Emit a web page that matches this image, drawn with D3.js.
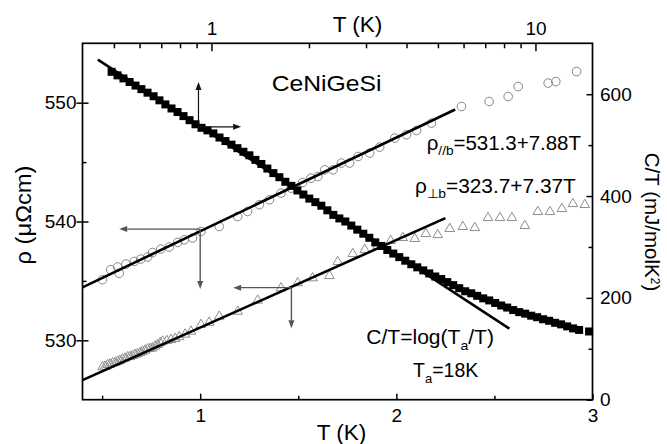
<!DOCTYPE html>
<html>
<head>
<meta charset="utf-8">
<script src="https://cdn.jsdelivr.net/npm/d3@7/dist/d3.min.js"></script>
<style>
  html, body { margin: 0; padding: 0; background: #fff; }
  svg { display: block; }
  text { font-family: "Liberation Sans", Arial, Helvetica, sans-serif; fill: #000; }
</style>
</head>
<body>
<svg id="chart" width="667" height="444"></svg>
<script>
// ---- C/T of CeNiGeSi, plotted against the top (logarithmic) T axis and the right axis
const ctT = [0.492, 0.513, 0.535, 0.559, 0.583, 0.608, 0.635, 0.663, 0.691, 0.721,
             0.753, 0.786, 0.820, 0.856, 0.893, 0.932, 0.972, 1.014, 1.059, 1.105,
             1.153, 1.203, 1.255, 1.310, 1.367, 1.426, 1.488, 1.553, 1.621, 1.691,
             1.765, 1.842, 1.922, 2.005, 2.093, 2.184, 2.279, 2.378, 2.482, 2.590,
             2.702, 2.820, 2.943, 3.071, 3.204, 3.344, 3.490, 3.641, 3.800, 3.965,
             4.138, 4.318, 4.506, 4.702, 4.907, 5.120, 5.343, 5.576, 5.818, 6.071,
             6.336, 6.611, 6.899, 7.200, 7.513, 7.840, 8.181, 8.537, 8.909, 9.296,
             9.701, 10.12, 10.56, 11.02, 11.50, 12.00, 12.53, 13.07, 13.64, 14.64];
const ctVal = [644, 637, 631, 624, 617, 610, 603, 596, 588, 580,
               572, 565, 557, 549, 541, 534, 529, 523, 515, 508,
               501, 494, 487, 480, 471, 463, 454, 445, 437, 428,
               420, 411, 403, 395, 388, 381, 372, 363, 356, 350,
               342, 334, 326, 318, 309, 302, 294, 287, 280, 273,
               266, 260, 254, 248, 242, 237, 231, 225, 219, 213,
               209, 204, 199, 195, 190, 185, 181, 176, 172, 169,
               165, 162, 158, 155, 151, 148, 144, 140, 137, 134];

// ---- resistivity along b (bottom linear T axis, left axis)
const rhoParT = [0.502, 0.544, 0.579, 0.587, 0.621, 0.664, 0.697, 0.732, 0.757, 0.799,
                 0.842, 0.885, 0.919, 0.961, 1.004, 1.097, 1.191, 1.242, 1.302, 1.353,
                 1.412, 1.463, 1.522, 1.565, 1.600, 1.635, 1.677, 1.720, 1.762, 1.805,
                 1.864, 1.915, 1.992, 2.052, 2.103, 2.179, 2.332, 2.473, 2.570, 2.621,
                 2.774, 2.813, 2.919];
const rhoPar = [535.10, 535.94, 536.17, 535.64, 536.42, 536.64, 536.84, 537.01, 537.39, 537.68,
                537.85, 538.24, 538.46, 538.61, 539.16, 539.58, 540.42, 540.84, 541.41, 541.83,
                542.39, 542.81, 543.28, 543.65, 543.79, 544.35, 544.35, 544.92, 544.92, 545.47,
                545.76, 546.26, 547.02, 547.30, 547.66, 548.28, 549.68, 550.10, 550.52, 551.36,
                551.65, 551.78, 552.62];

// ---- resistivity perpendicular to b (shown shifted up by perpShift)
const rhoPerpT = [0.502, 0.515, 0.528, 0.540, 0.553, 0.566, 0.579, 0.591, 0.604, 0.617,
                  0.630, 0.642, 0.655, 0.668, 0.681, 0.694, 0.706, 0.719, 0.732, 0.745,
                  0.757, 0.770, 0.783, 0.796, 0.808, 0.830, 0.851, 0.872, 0.893, 0.923,
                  0.953, 1.004, 1.046, 1.097, 1.191, 1.293, 1.412, 1.497, 1.573, 1.659,
                  1.701, 1.778, 1.839, 1.905, 1.971, 2.033, 2.094, 2.150, 2.211, 2.272,
                  2.339, 2.400, 2.467, 2.528, 2.589, 2.655, 2.721, 2.783, 2.844, 2.900,
                  2.961];
const rhoPerp = [327.75, 327.80, 327.94, 327.98, 328.08, 328.12, 328.22, 328.30, 328.42, 328.48,
                 328.59, 328.62, 328.70, 328.80, 328.87, 328.95, 329.06, 329.15, 329.27, 329.30,
                 329.35, 329.50, 329.63, 329.78, 329.91, 329.96, 330.05, 330.14, 330.28, 330.50,
                 330.75, 331.31, 331.50, 332.01, 332.43, 333.36, 334.40, 334.82, 335.24, 335.43,
                 336.61, 337.28, 337.62, 337.96, 338.38, 338.63, 338.55, 338.97, 338.88, 339.39,
                 339.56, 339.47, 340.31, 340.31, 340.31, 339.64, 340.82, 340.82, 341.07, 341.49,
                 341.41];
const perpShift = 200;

// ---- linear fits of the resistivity and the logarithmic fit of C/T
const fitPar  = { a: 531.3, b: 7.88, from: 0.4, to: 2.30 };
const fitPerp = { a: 323.7, b: 7.37, from: 0.4, to: 2.25 };
const fitCT   = { amp: 416, Ta: 18, from: 0.446, to: 8.31 };

// ---- axis ticks
const leftMajor = [530, 540, 550], leftMinor = [535, 545];
const bottomMajor = [1, 2, 3], bottomMinor = [0.5, 1.5, 2.5];
const rightMajor = [0, 200, 400, 600], rightMinor = [100, 300, 500];
const topMajor = [1, 10], topMinor = [0.5, 0.6, 0.7, 0.8, 0.9, 2, 3, 4, 5, 6, 7, 8, 9];

// ---- arrows that point each data set to its axes
const arrowsCT   = { T: 0.912, v: 536, upTo: 624, rightTo: 1.235 };
const arrowsPar  = { T: 1.0,   v: 539.36, downTo: 534.31, leftTo: 0.587 };
const arrowsPerp = { T: 1.465, v: 334.43, downTo: 331.01, leftTo: 1.168 };

// ================= drawing =================
const svg = d3.select("#chart");
const L = 82.5, R = 592.5, T = 43.3, B = 399.7;

const xB = d3.scaleLinear().domain([0.4, 3]).range([L, R]);
const xT = d3.scaleLog().domain([0.4, 15]).range([L, R]);
const yL = d3.scaleLinear().domain([525, 555]).range([B, T]);
const yR = d3.scaleLinear().domain([0, 700]).range([B, T]);

const tickFont = "19px";

function styleAxis(g) {
  g.select(".domain").remove();
  g.selectAll(".tick line").attr("stroke", "#000").attr("stroke-width", 1.5);
  g.selectAll(".tick text").style("font-size", tickFont).attr("fill", "#000");
}

// left axis: major ticks cross the frame, minor ticks point inward
svg.append("g").attr("transform", `translate(${L},0)`)
  .call(d3.axisLeft(yL).tickValues(leftMajor).tickSize(6).tickPadding(0).tickFormat(d3.format("d")))
  .call(styleAxis);
svg.append("g").attr("transform", `translate(${L},0)`)
  .call(d3.axisRight(yL).tickValues(leftMajor).tickSize(6).tickFormat(""))
  .call(styleAxis);
svg.append("g").attr("transform", `translate(${L},0)`)
  .call(d3.axisRight(yL).tickValues(leftMinor).tickSize(4).tickFormat(""))
  .call(styleAxis);

// bottom axis
svg.append("g").attr("transform", `translate(0,${B})`)
  .call(d3.axisBottom(xB).tickValues(bottomMajor).tickSize(-6).tickPadding(9).tickFormat(d3.format("d")))
  .call(styleAxis);
svg.append("g").attr("transform", `translate(0,${B})`)
  .call(d3.axisBottom(xB).tickValues(bottomMinor).tickSize(-4).tickFormat(""))
  .call(styleAxis);

// right axis
svg.append("g").attr("transform", `translate(${R},0)`)
  .call(d3.axisRight(yR).tickValues(rightMajor).tickSize(-6).tickPadding(7.5).tickFormat(d3.format("d")))
  .call(styleAxis);
svg.append("g").attr("transform", `translate(${R},0)`)
  .call(d3.axisRight(yR).tickValues(rightMinor).tickSize(-4).tickFormat(""))
  .call(styleAxis);

// top axis (log T)
svg.append("g").attr("transform", `translate(0,${T})`)
  .call(d3.axisTop(xT).tickValues(topMajor).tickSize(-8).tickPadding(8.3).tickFormat(d3.format("d")))
  .call(styleAxis);
svg.append("g").attr("transform", `translate(0,${T})`)
  .call(d3.axisTop(xT).tickValues(topMinor).tickSize(-5).tickFormat(""))
  .call(styleAxis);

// frame
svg.append("rect").attr("x", L).attr("y", T).attr("width", R - L).attr("height", B - T)
  .attr("fill", "none").attr("stroke", "#000").attr("stroke-width", 1.7);

const plot = svg.append("g");

// ρ⊥b open triangles
const tri = d3.symbol().type(d3.symbolTriangle).size(40);
plot.append("g").selectAll("path")
  .data(d3.zip(rhoPerpT, rhoPerp))
  .join("path")
  .attr("d", tri)
  .attr("transform", d => `translate(${xB(d[0])},${yL(d[1] + perpShift)})`)
  .attr("fill", "none").attr("stroke", "#8e8e8e").attr("stroke-width", 1);

// ρ//b open circles
plot.append("g").selectAll("circle")
  .data(d3.zip(rhoParT, rhoPar))
  .join("circle")
  .attr("cx", d => xB(d[0])).attr("cy", d => yL(d[1])).attr("r", 4.3)
  .attr("fill", "none").attr("stroke", "#858585").attr("stroke-width", 1);

// fit lines
const lineB = d3.line().x(d => xB(d[0])).y(d => yL(d[1]));
plot.append("path")
  .attr("d", lineB([fitPar.from, fitPar.to].map(t => [t, fitPar.a + fitPar.b * t])))
  .attr("stroke", "#000").attr("stroke-width", 2.6).attr("fill", "none");
plot.append("path")
  .attr("d", lineB([fitPerp.from, fitPerp.to].map(t => [t, fitPerp.a + fitPerp.b * t + perpShift])))
  .attr("stroke", "#000").attr("stroke-width", 2.6).attr("fill", "none");
const lineT = d3.line().x(d => xT(d[0])).y(d => yR(d[1]));
plot.append("path")
  .attr("d", lineT([fitCT.from, fitCT.to].map(t => [t, fitCT.amp * Math.log10(fitCT.Ta / t)])))
  .attr("stroke", "#000").attr("stroke-width", 2.6).attr("fill", "none");

// C/T solid squares
const sq = 8;
plot.append("g").selectAll("rect")
  .data(d3.zip(ctT, ctVal))
  .join("rect")
  .attr("x", d => xT(d[0]) - sq / 2).attr("y", d => yR(d[1]) - sq / 2)
  .attr("width", sq).attr("height", sq).attr("fill", "#000");

// arrows
function arrow(x0, y0, x1, y1, color, w) {
  const dx = x1 - x0, dy = y1 - y0, len = Math.hypot(dx, dy);
  const ux = dx / len, uy = dy / len, head = 8, half = 3;
  const bx = x1 - ux * head, by = y1 - uy * head;
  svg.append("line").attr("x1", x0).attr("y1", y0).attr("x2", bx).attr("y2", by)
    .attr("stroke", color).attr("stroke-width", w);
  svg.append("path")
    .attr("d", `M${x1},${y1}L${bx - uy * half},${by + ux * half}L${bx + uy * half},${by - ux * half}Z`)
    .attr("fill", color);
}
{
  const a = arrowsCT, x0 = xT(a.T), y0 = yR(a.v);
  arrow(x0, y0, x0, yR(a.upTo), "#111", 1.2);
  arrow(x0, y0, xT(a.rightTo), y0, "#111", 1.2);
}
{
  const a = arrowsPar, x0 = xB(a.T), y0 = yL(a.v);
  arrow(x0, y0, x0, yL(a.downTo), "#555", 1.4);
  arrow(x0, y0, xB(a.leftTo), y0, "#555", 1.4);
}
{
  const a = arrowsPerp, x0 = xB(a.T), y0 = yL(a.v + perpShift);
  arrow(x0, y0, x0, yL(a.downTo + perpShift), "#555", 1.4);
  arrow(x0, y0, xB(a.leftTo), y0, "#555", 1.4);
}

// text helper: runs of [string, fontSize, baselineShift]
function rich(x, y, runs, sx, rotate, anchor) {
  const t = svg.append("text")
    .attr("transform", `translate(${x},${y})` + (rotate ? ` rotate(${rotate})` : "") + ` scale(${sx},1)`)
    .attr("text-anchor", anchor || "start");
  let prev = 0;
  runs.forEach(([s, size, shift]) => {
    t.append("tspan").text(s).style("font-size", size + "px").attr("dy", (shift || 0) - prev);
    prev = shift || 0;
  });
  return t;
}

// axis titles
rich(341.5, 440, [["T (K)", 21.5]], 1.05, 0, "middle");
rich(357.5, 31.7, [["T (K)", 21.5]], 1.05, 0, "middle");
rich(31, 215, [["ρ (μΩcm)", 22]], 1.08, -90, "middle");
rich(645, 222, [["C/T (mJ/molK", 20.5], ["2", 12, -6], [")", 20.5, 0]], 1.0, 90, "middle");

// annotations
rich(271.7, 90.7, [["CeNiGeSi", 23]], 1.075, 0);
rich(426.7, 150, [["ρ", 19.5], ["//b", 13, 5], ["=531.3+7.88T", 19.5, 0]], 1.05, 0);
rich(415, 193.3, [["ρ", 19.5], ["⊥b", 13, 5], ["=323.7+7.37T", 19.5, 0]], 1.07, 0);
rich(366.3, 343.7, [["C/T=log(T", 19.5], ["a", 13, 6], ["/T)", 19.5, 0]], 1.08, 0);
rich(413, 377, [["T", 19.5], ["a", 13, 6], ["=18K", 19.5, 0]], 1.0, 0);
</script>
</body>
</html>
